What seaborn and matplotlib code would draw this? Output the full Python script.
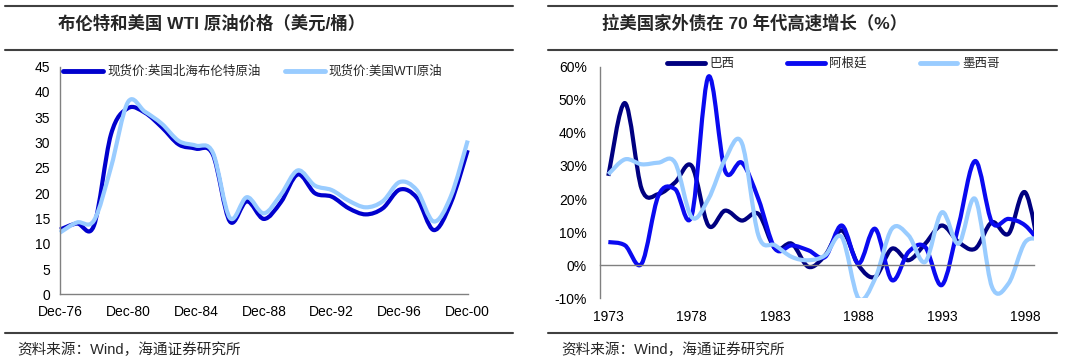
import numpy as np
import pandas as pd
import seaborn as sns
import matplotlib.pyplot as plt
from matplotlib.path import Path
from matplotlib.patches import PathPatch
from matplotlib.lines import Line2D
from matplotlib.ticker import FixedLocator, FixedFormatter, NullFormatter, PercentFormatter

# left panel: annual oil prices, USD/bbl
oil_years = [1976, 1977, 1978, 1979, 1980, 1981, 1982, 1983, 1984, 1985, 1986, 1987, 1988,
             1989, 1990, 1991, 1992, 1993, 1994, 1995, 1996, 1997, 1998, 1999, 2000]
brent = [12.8, 14.0, 13.6, 31.6, 36.8, 35.9, 33.0, 29.6, 28.8, 27.6, 14.4, 18.4, 14.9,
         18.2, 23.7, 20.0, 19.3, 17.0, 15.8, 17.0, 20.7, 19.1, 12.7, 18.0, 28.5]
wti = [12.2, 14.2, 14.6, 25.1, 38.0, 36.1, 33.7, 30.3, 29.4, 28.0, 15.1, 19.2, 16.0,
       19.7, 24.5, 21.5, 20.6, 18.5, 17.2, 18.4, 22.2, 20.6, 14.4, 19.3, 30.4]
oil_names = ['现货价:英国北海布伦特原油', '现货价:美国WTI原油']
oil_ticks = [1976, 1980, 1984, 1988, 1992, 1996, 2000]
oil_tick_labels = ['Dec-76', 'Dec-80', 'Dec-84', 'Dec-88', 'Dec-92', 'Dec-96', 'Dec-00']

# right panel: external debt growth, %
debt_years = [1973, 1974, 1975, 1976, 1977, 1978, 1979, 1980, 1981, 1982, 1983, 1984, 1985,
              1986, 1987, 1988, 1989, 1990, 1991, 1992, 1993, 1994, 1995, 1996, 1997, 1998, 1999]
brazil = [27, 49, 23, 21.5, 25, 30, 12, 16.5, 13.5, 15.5, 5, 6.5, -0.5,
          3, 10.5, 0, -3.5, 5, 1.5, 6.5, 12, 7, 5, 13, 9.5, 22, 0]
argentina = [7, 6, 0.5, 21, 23, 15, 57, 28.5, 31, 20, 5, 6, 4.5,
             2.5, 12, 0.5, 11, -4.5, 4, 5.5, -6, 12, 31.5, 13, 14, 12, 6]
mexico = [27.5, 32, 30.5, 31, 31, 14.5, 20, 32, 37, 9, 6, 2.5, 1.5,
          3, 8.5, -10, -4, 11, 9, 1, 16, 6.5, 20, -6.5, -5.5, 7, 7.5]
debt_names = ['巴西', '阿根廷', '墨西哥']
debt_label_years = [1973, 1978, 1983, 1988, 1993, 1998]

oil_colors = ['#0000CD', '#99CCFF']
debt_colors = ['#000080', '#0A0AF0', '#99CCFF']

sns.set_theme(style='white')
plt.rcParams['font.family'] = ['Liberation Sans', 'Noto Sans CJK SC', 'DejaVu Sans']
plt.rcParams['axes.unicode_minus'] = False


def smooth_lines(ax, clip=True):
    # excel-style smoothed line: catmull-rom through the plotted points
    for line in list(ax.get_lines()):
        xs, ys = np.asarray(line.get_xdata(), float), np.asarray(line.get_ydata(), float)
        if len(xs) < 2:
            continue
        xy = np.column_stack([xs, ys])
        n = len(xy)
        verts = [xy[0]]
        for i in range(n - 1):
            p0, p1 = xy[max(i - 1, 0)], xy[i]
            p2, p3 = xy[i + 1], xy[min(i + 2, n - 1)]
            verts += [p1 + (p2 - p0) / 6, p2 - (p3 - p1) / 6, p2]
        codes = [Path.MOVETO] + [Path.CURVE4] * (3 * (n - 1))
        ax.add_patch(PathPatch(Path(verts, codes), fill=False, ec=line.get_color(),
                               lw=line.get_linewidth(), joinstyle='round',
                               capstyle='butt', zorder=line.get_zorder(), clip_on=clip))
        line.set_visible(False)


fig = plt.figure(figsize=(10.8, 3.63), dpi=100)
ax1 = fig.add_axes([60 / 1080, 1 - 294.3 / 363, 407.7 / 1080, 227.6 / 363])
ax2 = fig.add_axes([600 / 1080, 1 - 298.3 / 363, 433.6 / 1080, 231.6 / 363])

# ---- left: oil prices
oil = pd.DataFrame({'year': oil_years, oil_names[0]: brent, oil_names[1]: wti})
oil = oil.melt('year', var_name='series', value_name='price')
sns.lineplot(data=oil, x='year', y='price', hue='series', hue_order=oil_names,
             palette=oil_colors, linewidth=3, legend=False, ax=ax1)
ax1.set_xlim(1976, 2000)
ax1.set_ylim(0, 45)
ax1.set_yticks(range(0, 46, 5))
ax1.set_xticks(oil_ticks)
ax1.set_xticklabels(oil_tick_labels)
ax1.set_xlabel('')
ax1.set_ylabel('')
for s in ['top', 'right']:
    ax1.spines[s].set_visible(False)
for s in ['left', 'bottom']:
    ax1.spines[s].set_color('#808080')
    ax1.spines[s].set_linewidth(1)
ax1.tick_params(axis='both', which='major', direction='out', length=3, width=1,
                color='#808080', labelsize=10, labelcolor='black')
ax1.tick_params(axis='y', pad=4)
ax1.tick_params(axis='x', pad=4.5)
ax1.legend(handles=[Line2D([], [], color=c, lw=3.5) for c in oil_colors], labels=oil_names,
           ncol=2, frameon=False, fontsize=9, handlelength=3.2, handletextpad=0.35,
           columnspacing=1.9, loc='center left', borderpad=0, borderaxespad=0,
           bbox_to_anchor=(63 / 1080, 1 - 71.7 / 363), bbox_transform=fig.transFigure)
smooth_lines(ax1, clip=False)

# ---- right: debt growth
debt = pd.DataFrame({'year': debt_years, debt_names[0]: brazil,
                     debt_names[1]: argentina, debt_names[2]: mexico})
debt = debt.melt('year', var_name='country', value_name='growth')
sns.lineplot(data=debt, x='year', y='growth', hue='country', hue_order=debt_names,
             palette=debt_colors, linewidth=3, legend=False, ax=ax2)
ax2.set_xlim(1972.5, 1998.5)
ax2.set_ylim(-10, 60)
ax2.set_yticks(range(-10, 61, 10))
ax2.yaxis.set_major_formatter(PercentFormatter(xmax=100, decimals=0))
ax2.set_xlabel('')
ax2.set_ylabel('')
for s in ['top', 'right']:
    ax2.spines[s].set_visible(False)
ax2.spines['bottom'].set_position(('data', 0))
for s in ['left', 'bottom']:
    ax2.spines[s].set_color('#808080')
    ax2.spines[s].set_linewidth(1)
ax2.xaxis.set_major_locator(FixedLocator([y - 0.5 for y in debt_label_years[1:]]))
ax2.xaxis.set_major_formatter(NullFormatter())
ax2.xaxis.set_minor_locator(FixedLocator(debt_label_years))
ax2.xaxis.set_minor_formatter(FixedFormatter([str(y) for y in debt_label_years]))
ax2.tick_params(axis='x', which='major', direction='out', length=3, width=1, color='#808080')
ax2.tick_params(axis='x', which='minor', length=0, pad=32, labelsize=10, labelcolor='black')
ax2.tick_params(axis='y', direction='out', length=3.5, width=1, color='#808080',
                pad=6, labelsize=10, labelcolor='black')
ax2.legend(handles=[Line2D([], [], color=c, lw=3.5) for c in debt_colors], labels=debt_names,
           ncol=3, frameon=False, fontsize=9, handlelength=3.0, handletextpad=0.4,
           columnspacing=4.2, loc='center left', borderpad=0, borderaxespad=0,
           bbox_to_anchor=(667 / 1080, 1 - 64 / 363), bbox_transform=fig.transFigure)
smooth_lines(ax2, clip=True)

# ---- titles, rules, sources
fig.text(58 / 1080, 1 - 23 / 363, '布伦特和美国 WTI 原油价格（美元/桶）', fontsize=12.5,
         fontweight='bold', va='center', ha='left')
fig.text(602 / 1080, 1 - 23 / 363, '拉美国家外债在 70 年代高速增长（%）', fontsize=12.5,
         fontweight='bold', va='center', ha='left')
for x0, x1 in [(5, 513), (548, 1057)]:
    for y in [6, 50, 332.7]:
        fig.add_artist(Line2D([x0 / 1080, x1 / 1080], [1 - y / 363, 1 - y / 363],
                              transform=fig.transFigure, color='#404040', lw=1.5))
fig.text(17 / 1080, 1 - 350 / 363, '资料来源：Wind，海通证券研究所', fontsize=10.5,
         va='center', ha='left')
fig.text(561 / 1080, 1 - 350 / 363, '资料来源：Wind，海通证券研究所', fontsize=10.5,
         va='center', ha='left')

fig.savefig('out.png', dpi=100)
